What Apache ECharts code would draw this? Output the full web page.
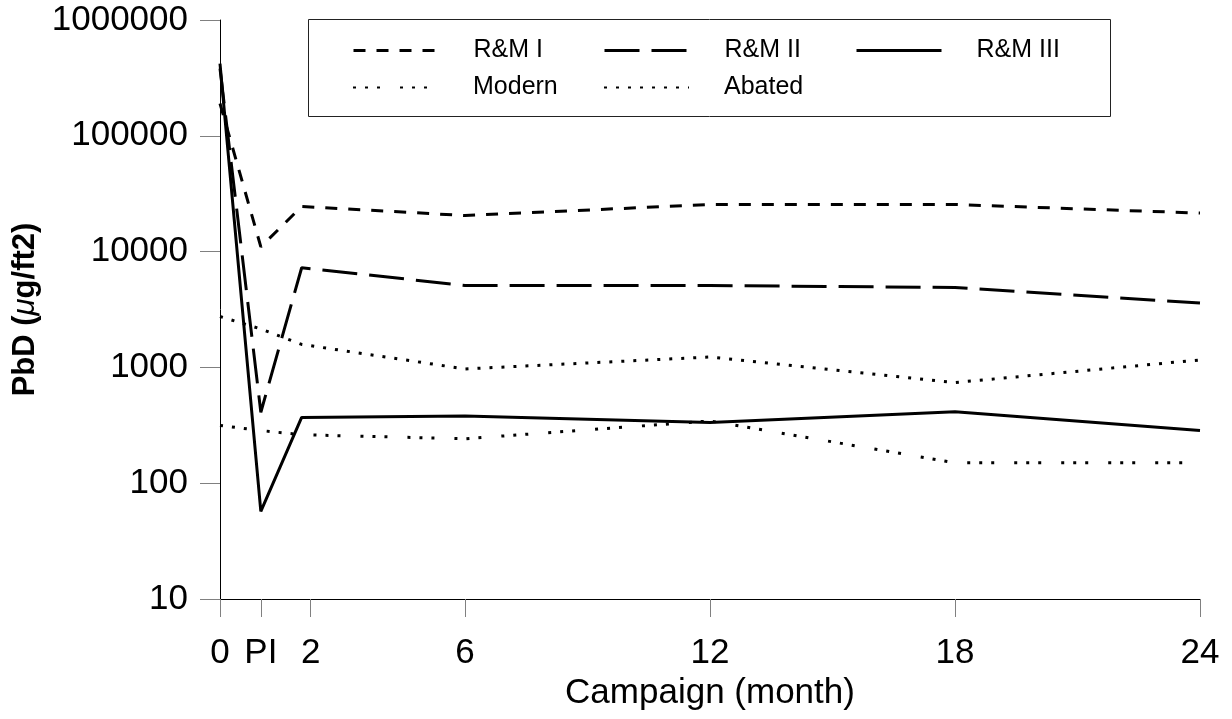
<!DOCTYPE html>
<html>
<head>
<meta charset="utf-8">
<script src="https://cdn.jsdelivr.net/npm/echarts@6/dist/echarts.min.js"></script>
<style>
  html, body { margin: 0; padding: 0; background: #fff; }
  #chart { width: 1232px; height: 719px; }
</style>
</head>
<body>
<div id="chart"></div>
<script>
// campaign months (PI = post intervention, drawn at month 1)
const months = [0, 1, 2, 6, 12, 18, 24];
const tickValues = [0, 1, 2.22, 6, 12, 18, 24];
const tickLabels = ['0', 'PI', '2', '6', '12', '18', '24'];

const rm1 = [190000, 11000, 24500, 20500, 25500, 25500, 21500];
const rm2 = [380000, 410, 7250, 5100, 5100, 4900, 3600];
const rm3 = [420000, 57, 370, 380, 335, 415, 285];
const modern = [315, 285, 262, 242, 345, 150, 150];
const abated = [2750, 2150, 1580, 970, 1230, 740, 1160];

const font = "'Liberation Sans', Arial, sans-serif";

const styles = {
  'R&M I': { type: [12, 11], width: 3 },
  'R&M II': { type: [35, 12], width: 3 },
  'R&M III': { type: 'solid', width: 3 },
  'Modern': { type: [3, 9, 3, 9, 3, 20], width: 3 },
  'Abated': { type: [3, 9], width: 3 }
};

function pairs(vals) {
  return months.map((m, i) => [m, vals[i]]);
}

function makeSeries(name, vals) {
  const st = styles[name];
  return {
    name: name,
    type: 'line',
    data: pairs(vals),
    symbol: 'none',
    lineStyle: { color: '#000', width: st.width, type: st.type, cap: 'butt' }
  };
}

function makeLegend(name, left, top, lineW) {
  const st = styles[name];
  return {
    data: [name],
    left: left,
    top: top,
    padding: 0,
    itemWidth: 85,
    itemHeight: 14,
    selectedMode: false,
    itemStyle: { color: 'rgba(0,0,0,0)', borderWidth: 0 },
    lineStyle: { color: '#000', width: lineW, type: st.type, cap: 'butt' },
    textStyle: { fontFamily: font, fontSize: 25, color: '#000', padding: [0, 0, 0, 30] }
  };
}

const chart = echarts.init(document.getElementById('chart'));

const option = {
  backgroundColor: '#fff',
  animation: false,
  grid: { left: 220, right: 32, top: 20, bottom: 120 },
  legend: [
    makeLegend('R&M I', 352, 38, 3),
    makeLegend('R&M II', 603, 38, 3),
    makeLegend('R&M III', 855, 38, 3),
    makeLegend('Modern', 352, 75, 2),
    makeLegend('Abated', 603, 75, 2)
  ],
  graphic: [{
    type: 'rect',
    shape: { x: 308.5, y: 19.5, width: 802, height: 97 },
    style: { fill: 'none', stroke: '#222', lineWidth: 1 },
    silent: true
  }],
  xAxis: {
    type: 'value',
    min: 0,
    max: 24,
    name: 'Campaign (month)',
    nameLocation: 'middle',
    nameGap: 66,
    nameTextStyle: { fontFamily: font, fontSize: 35, color: '#000' },
    axisLine: { lineStyle: { color: '#000', width: 1 } },
    axisTick: { customValues: tickValues, length: 18, lineStyle: { color: '#808080' } },
    axisLabel: {
      customValues: tickValues,
      margin: 37,
      fontFamily: font,
      fontSize: 35,
      color: '#000',
      formatter: function (v) {
        const i = tickValues.findIndex(t => Math.abs(t - v) < 1e-6);
        return i >= 0 ? tickLabels[i] : '';
      }
    },
    splitLine: { show: false }
  },
  yAxis: {
    type: 'log',
    logBase: 10,
    min: 10,
    max: 1000000,
    name: 'PbD ({mu|μ}g/ft2)',
    nameLocation: 'middle',
    nameGap: 176,
    nameRotate: 90,
    nameTextStyle: {
      fontFamily: font,
      fontSize: 31,
      fontWeight: 'bold',
      color: '#000',
      rich: {
        mu: { fontFamily: font, fontSize: 31, fontStyle: 'italic', fontWeight: 'normal', color: '#000' }
      }
    },
    axisLine: { show: true, lineStyle: { color: '#000', width: 1 } },
    axisTick: { show: true, length: 20, lineStyle: { color: '#808080' } },
    minorTick: { show: false },
    axisLabel: {
      margin: 32,
      fontFamily: font,
      fontSize: 35,
      color: '#000',
      formatter: function (v) { return String(Math.round(v)); }
    },
    splitLine: { show: false }
  },
  series: [
    makeSeries('R&M I', rm1),
    makeSeries('R&M II', rm2),
    makeSeries('R&M III', rm3),
    makeSeries('Modern', modern),
    makeSeries('Abated', abated)
  ]
};

chart.setOption(option);
</script>
</body>
</html>
